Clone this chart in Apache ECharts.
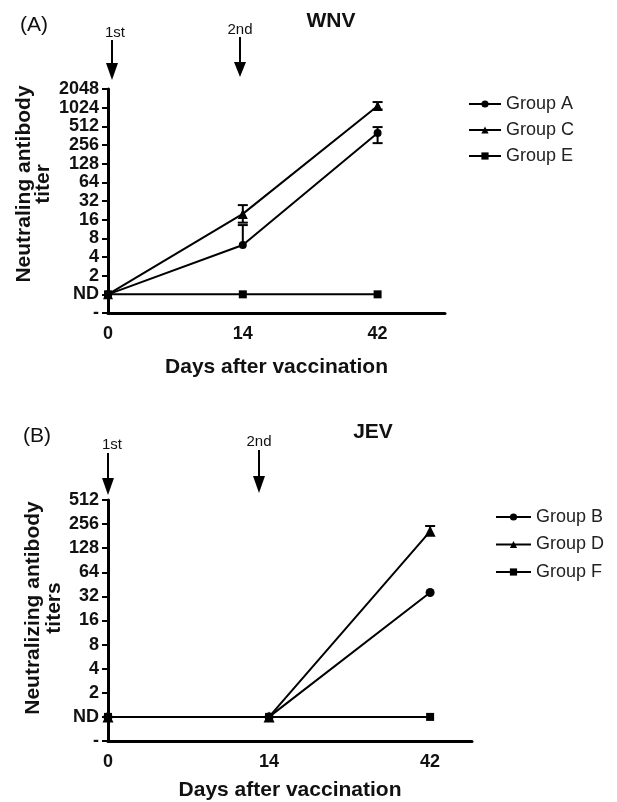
<!DOCTYPE html>
<html><head><meta charset="utf-8">
<script src="https://cdn.jsdelivr.net/npm/echarts@6/dist/echarts.min.js"></script>
<style>html,body{margin:0;padding:0;background:#fff}#c{width:617px;height:802px}</style>
</head><body><div id="c"></div>
<script>
// Days (x categories, drawn at equal spacing as in the original)
const days = [0, 14, 42];
// Values are in log2 titer units: -1 = "-", 0 = "ND", n = 2^n
const wnvTicks = ['-', 'ND', '2', '4', '8', '16', '32', '64', '128', '256', '512', '1024', '2048'];
const jevTicks = ['-', 'ND', '2', '4', '8', '16', '32', '64', '128', '256', '512'];
const wnvGroupA = [0, 2.64, 8.64];
const wnvGroupC = [0, 4.31, 10.09];
const wnvGroupE = [0, 0, 0];
// error bars: [dayIndex, low, high, drawLowCap]
const wnvErrA = [[1, 2.64, 3.71, 0], [2, 8.1, 8.96, 1]];
const wnvErrC = [[1, 3.84, 4.78, 1], [2, 9.9, 10.3, 1]];
const jevGroupB = [0, 0, 5.16];
const jevGroupD = [0, 0, 7.7];
const jevGroupF = [0, 0, 0];
const jevErrD = [[2, 7.7, 7.92, 0]];

const FONT = '"Liberation Sans", Arial, sans-serif';
const chart = echarts.init(document.getElementById('c'), null, {renderer: 'canvas'});

function pts(vals) { return vals.map((v, i) => [i, v]); }
function errItem(params, api) {
  const x = api.value(0), lo = api.value(1), hi = api.value(2), capLo = api.value(3);
  const p1 = api.coord([x, hi]), p2 = api.coord([x, lo]);
  const w = 5;
  const style = {stroke: '#000', lineWidth: 2};
  const ch = [
    {type: 'line', shape: {x1: p1[0], y1: p1[1], x2: p2[0], y2: p2[1]}, style},
    {type: 'line', shape: {x1: p1[0] - w, y1: p1[1], x2: p1[0] + w, y2: p1[1]}, style}
  ];
  if (capLo) ch.push({type: 'line', shape: {x1: p2[0] - w, y1: p2[1], x2: p2[0] + w, y2: p2[1]}, style});
  return {type: 'group', children: ch};
}

function yAxis(idx, max, ticks) {
  return {
    type: 'value', gridIndex: idx, min: -1, max: max, interval: 1,
    axisLine: {show: true, lineStyle: {color: '#000', width: 3}},
    axisTick: {show: true, inside: false, length: 6, lineStyle: {color: '#000', width: 2}},
    splitLine: {show: false},
    axisLabel: {margin: 9, color: '#111', fontSize: 18, fontWeight: 'bold', fontFamily: FONT,
      formatter: v => ticks[Math.round(v) + 1] ?? ''}
  };
}
function xAxis(idx, max, gap) {
  return {
    type: 'value', gridIndex: idx, min: 0, max: max, interval: 1,
    axisLine: {show: true, onZero: false, lineStyle: {color: '#000', width: 3}},
    axisTick: {show: false}, splitLine: {show: false},
    axisLabel: {margin: 12, color: '#111', fontSize: 18, fontWeight: 'bold', fontFamily: FONT,
      showMaxLabel: false,
      formatter: v => (Number.isInteger(v) && v < days.length) ? String(days[v]) : ''},
    name: 'Days after vaccination', nameLocation: 'middle', nameGap: gap,
    nameTextStyle: {color: '#111', fontSize: 21, fontWeight: 'bold', fontFamily: FONT}
  };
}
function lineSeries(name, vals, sym, size, gi) {
  return {
    type: 'line', name: name, data: pts(vals), xAxisIndex: gi, yAxisIndex: gi,
    symbol: sym, symbolSize: size, showSymbol: true,
    lineStyle: {color: '#000', width: 2}, itemStyle: {color: '#000'},
    emphasis: {disabled: true}, animation: false, z: 3
  };
}
function errSeries(data, gi) {
  return {type: 'custom', data: data, xAxisIndex: gi, yAxisIndex: gi, renderItem: errItem,
    encode: {x: 0, y: [1, 2]}, animation: false, silent: true, z: 4};
}
function arrow(x, y0, yHead, yTip) {
  return [
    {type: 'line', shape: {x1: x, y1: y0, x2: x, y2: yHead + 2}, style: {stroke: '#000', lineWidth: 2}},
    {type: 'polygon', shape: {points: [[x - 6, yHead], [x + 6, yHead], [x, yTip]]}, style: {fill: '#000'}}
  ];
}
function txt(x, y, t, font, rot, lh) {
  return {type: 'text', x: x, y: y, rotation: rot || 0,
    style: {text: t, font: font, fill: '#111', align: 'center', verticalAlign: 'middle', lineHeight: lh || 20}};
}
const legendText = {color: '#222', fontSize: 18, fontFamily: FONT, lineHeight: 18};

chart.setOption({
  animation: false,
  backgroundColor: '#fff',
  grid: [
    {left: 108, top: 89, width: 337, height: 224},
    {left: 108, top: 500, width: 364, height: 243}
  ],
  xAxis: [xAxis(0, 2.5, 44), xAxis(1, 2.26, 39)],
  yAxis: [yAxis(0, 11, wnvTicks), yAxis(1, 9, jevTicks)],
  legend: [
    {data: ['Group A', 'Group C', 'Group E'], orient: 'vertical', left: 468, top: 95, padding: 0,
      itemWidth: 32, itemHeight: 9, itemGap: 8, textStyle: legendText, selectedMode: false},
    {data: ['Group B', 'Group D', 'Group F'], orient: 'vertical', left: 495, top: 508, padding: 0,
      itemWidth: 35, itemHeight: 9, itemGap: 9.5, textStyle: legendText, selectedMode: false}
  ],
  series: [
    lineSeries('Group A', wnvGroupA, 'circle', 8, 0),
    lineSeries('Group C', wnvGroupC, 'triangle', 10, 0),
    lineSeries('Group E', wnvGroupE, 'rect', 8, 0),
    errSeries(wnvErrA, 0),
    errSeries(wnvErrC, 0),
    lineSeries('Group B', jevGroupB, 'circle', 9, 1),
    lineSeries('Group D', jevGroupD, 'triangle', 11, 1),
    lineSeries('Group F', jevGroupF, 'rect', 8, 1),
    errSeries(jevErrD, 1)
  ],
  graphic: [
    txt(34, 25, '(A)', '21px ' + FONT),
    txt(331, 21, 'WNV', 'bold 21px ' + FONT),
    txt(115, 33, '1st', '15px ' + FONT),
    txt(240, 30, '2nd', '15px ' + FONT),
    ...arrow(112, 40, 63, 80),
    ...arrow(240, 37, 62, 77),
    txt(34, 184, 'Neutraling antibody\ntiter', 'bold 21px ' + FONT, Math.PI / 2, 19),
    txt(37, 436, '(B)', '21px ' + FONT),
    txt(373, 432, 'JEV', 'bold 21px ' + FONT),
    txt(112, 445, '1st', '15px ' + FONT),
    txt(259, 442, '2nd', '15px ' + FONT),
    ...arrow(108, 453, 478, 495),
    ...arrow(259, 450, 476, 493),
    txt(44, 608, 'Neutralizing antibody\ntiters', 'bold 21px ' + FONT, Math.PI / 2, 21)
  ]
});
</script>
</body></html>
